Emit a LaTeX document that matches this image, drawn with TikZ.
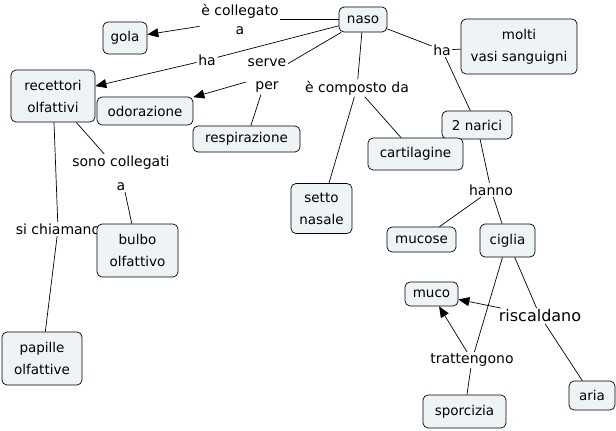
\documentclass[tikz,border=0pt]{standalone}
\usepackage{fontspec}
\setmainfont{DejaVu Sans}
\usetikzlibrary{arrows.meta}
\definecolor{boxfill}{HTML}{EEF3F6}
\tikzset{
  box/.style={draw=black, line width=0.7pt, rounded corners=5pt, fill=boxfill, align=center, inner sep=2pt, font=\fontsize{13.5}{22}\selectfont},
  lbl/.style={align=center, inner sep=1.5pt, font=\fontsize{14}{21}\selectfont},
  conn/.style={line width=0.7pt, draw=black},
  arr/.style={conn, -{Triangle[length=11pt,width=9pt]}}
}
\begin{document}
\begin{tikzpicture}[x=1pt,y=-1pt]
\useasboundingbox (0,0) rectangle (616,431);
% labels
\node[lbl, font=\fontsize{14}{19}\selectfont] (lcoll) at (240,20) {è collegato\\a};
\node[lbl] (lha1) at (207,60) {ha};
\node[lbl, font=\fontsize{14}{23}\selectfont] (lserve) at (267,76) {serve\\per};
\node[lbl] (lcomp) at (357,88) {è composto da};
\node[lbl] (lha2) at (442,50) {ha};
\node[lbl] (lhanno) at (491,190) {hanno};
\node[lbl, font=\fontsize{16}{20}\selectfont] (lrisc) at (540,316) {riscaldano};
\node[lbl] (ltratt) at (472,360) {trattengono};
\node[lbl, font=\fontsize{14}{24}\selectfont] (lsono) at (121,173) {sono collegati\\a};
\node[lbl] (lchiam) at (58,229) {si chiamano};
% boxes
\node[box, minimum width=48pt, minimum height=25pt] (naso) at (363,19.5) {naso};
\node[box, minimum width=44pt, minimum height=32pt] (gola) at (125,38) {gola};
\node[box, minimum width=84pt, minimum height=52pt] (rec) at (53,96) {recettori\\olfattivi};
\node[box, minimum width=96pt, minimum height=28pt] (odor) at (145,111) {odorazione};
\node[box, minimum width=107pt, minimum height=26pt] (resp) at (246.5,139) {respirazione};
\node[box, minimum width=116pt, minimum height=55pt] (molti) at (519,46.5) {molti\\vasi sanguigni};
\node[box, minimum width=70pt, minimum height=28pt] (narici) at (477,125) {2 narici};
\node[box, minimum width=95pt, minimum height=32pt] (cart) at (415.5,154) {cartilagine};
\node[box, minimum width=61pt, minimum height=50pt] (setto) at (321.5,208.5) {setto\\nasale};
\node[box, minimum width=69pt, minimum height=25pt] (mucose) at (421.5,239.5) {mucose};
\node[box, minimum width=55pt, minimum height=33pt] (ciglia) at (507.5,240.5) {ciglia};
\node[box, minimum width=53pt, minimum height=24pt] (muco) at (431.5,294) {muco};
\node[box, minimum width=46pt, minimum height=29pt] (aria) at (592,395.5) {aria};
\node[box, minimum width=83pt, minimum height=33pt] (sporc) at (464.5,411.5) {sporcizia};
\node[box, minimum width=81pt, minimum height=53pt] (bulbo) at (137.5,250.5) {bulbo\\olfattivo};
\node[box, minimum width=80pt, minimum height=53pt] (papille) at (42,358.5) {papille\\olfattive};
% connectors
\draw[conn] (naso) -- (lcoll.east |- naso);
\draw[arr] (lcoll) -- (gola);
\draw[conn] (naso) -- (lha1);
\draw[arr] (lha1) -- (rec);
\draw[conn] (naso) -- (lserve);
\draw[arr] (lserve) -- (odor);
\draw[conn] (lserve) -- (resp);
\draw[conn] (naso) -- (lcomp);
\draw[conn] (lcomp) -- (setto);
\draw[conn] (lcomp) -- (cart);
\draw[conn] (naso) -- (lha2);
\draw[conn] (lha2) -- (molti);
\draw[conn] (lha2) -- (narici);
\draw[conn] (narici) -- (lhanno);
\draw[conn] (lhanno) -- (mucose);
\draw[conn] (lhanno) -- (ciglia);
\draw[conn] (ciglia) -- (lrisc);
\draw[conn] (lrisc) -- (aria);
\draw[arr] (lrisc) -- (muco);
\draw[conn] (ciglia) -- (ltratt);
\draw[arr] (ltratt) -- (muco);
\draw[conn] (ltratt) -- (sporc);
\draw[conn] (rec) -- (lsono);
\draw[conn] (lsono) -- (bulbo);
\draw[conn] (rec) -- (lchiam);
\draw[conn] (lchiam) -- (papille);
\end{tikzpicture}
\end{document}
